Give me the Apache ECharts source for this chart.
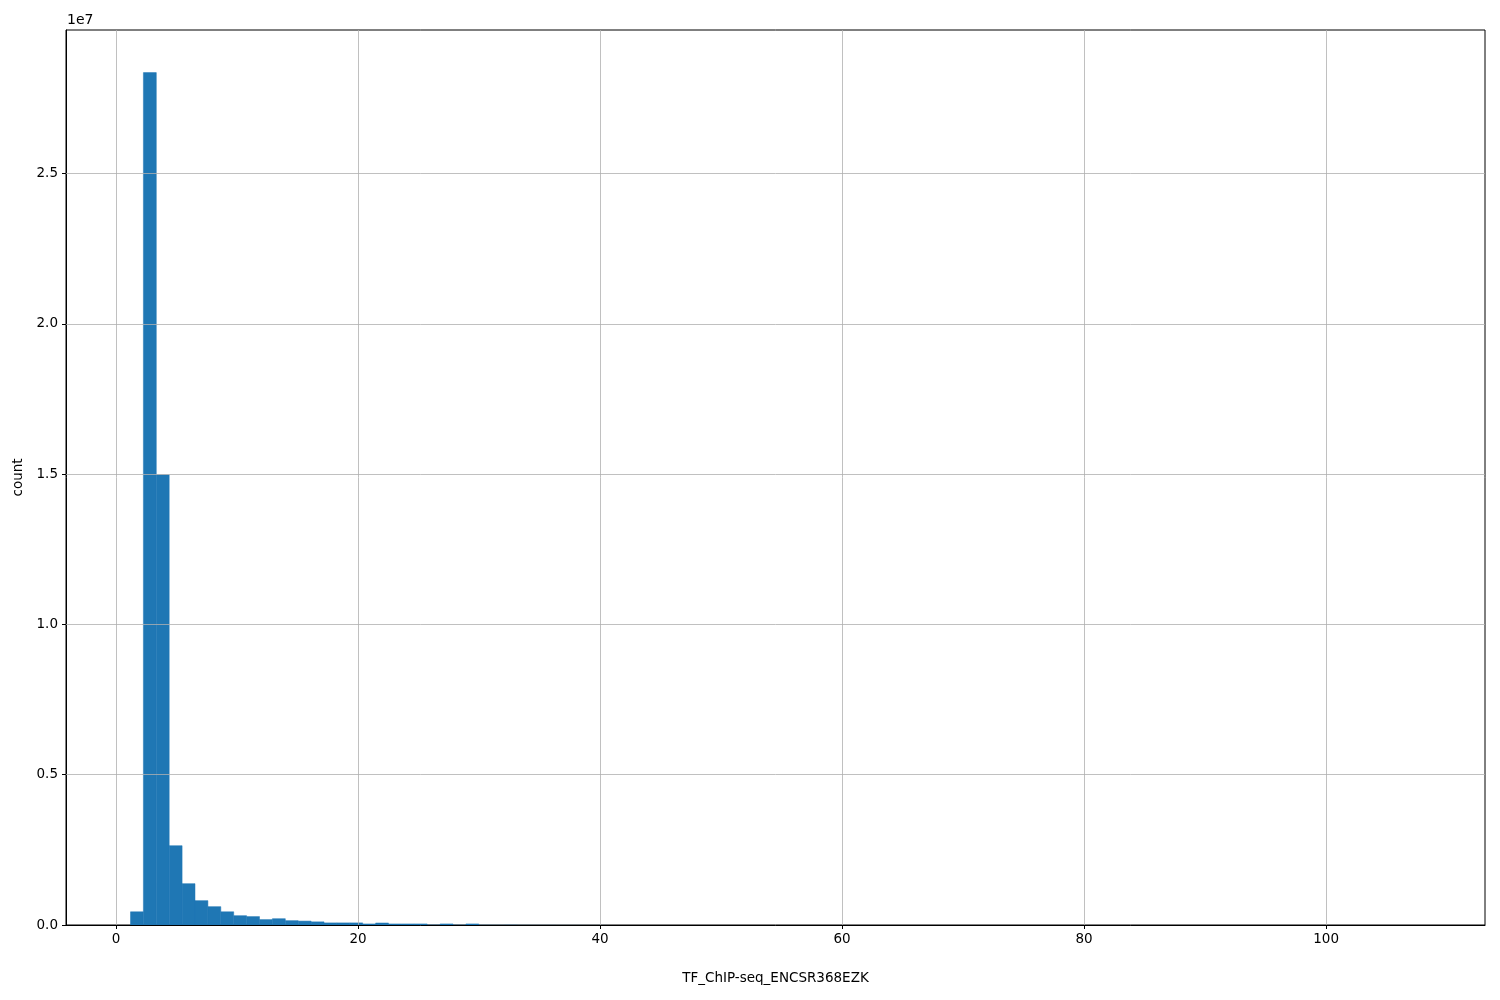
<!DOCTYPE html>
<html><head><meta charset="utf-8">
<script src="https://cdn.jsdelivr.net/npm/echarts@6/dist/echarts.min.js"></script>
<style>html,body{margin:0;padding:0;background:#fff}#c{width:1500px;height:1000px}</style>
</head><body><div id="c"></div>
<script>
// Histogram: 100 equal bins between binStart and binEnd
const binStart = 1.2;
const binEnd = 107.8;
const counts = [
  440000, 28360000, 14980000, 2640000, 1375000, 810000, 610000, 440000, 310000, 280000,
  180000, 210000, 145000, 130000, 105000, 70000, 70000, 70000, 35000, 67000,
  35000, 35000, 35000, 10000, 35000, 8000, 35000, 6000, 5000, 8000,
  4000, 3000, 3000, 2000, 2000, 1500, 1500, 1000, 1000, 800,
  700, 600, 500, 500, 400, 300, 300, 200, 200, 200,
  150, 150, 100, 100, 100, 80, 80, 60, 60, 50,
  40, 40, 30, 30, 30, 20, 20, 20, 15, 15,
  10, 10, 10, 8, 8, 6, 6, 5, 5, 4,
  4, 3, 3, 3, 2, 2, 2, 2, 1, 1,
  1, 1, 1, 1, 1, 1, 1, 1, 1, 1
];
const xTicks = [0, 20, 40, 60, 80, 100];
const yTicks = [0, 5000000, 10000000, 15000000, 20000000, 25000000];
const xLabel = 'TF_ChIP-seq_ENCSR368EZK';
const yLabel = 'count';
const offsetText = '1e7';

const binW = (binEnd - binStart) / counts.length;
const bars = counts.map((c, i) => [binStart + i * binW, binStart + (i + 1) * binW, c]);
const span = binEnd - binStart;
const xMin = binStart - 0.05 * span, xMax = binEnd + 0.05 * span;
const yMax = Math.max(...counts) * 1.05;

const font = 'DejaVu Sans';
const chart = echarts.init(document.getElementById('c'));
chart.setOption({
  animation: false,
  grid: { left: 66, right: 15, top: 30, bottom: 75, show: true, borderColor: '#000', borderWidth: 1, backgroundColor: 'transparent' },
  graphic: [{ type: 'text', left: 67, top: 13, style: { text: offsetText, font: '14px "DejaVu Sans"', fill: '#000' } }],
  xAxis: {
    type: 'value', min: xMin, max: xMax,
    name: xLabel, nameLocation: 'middle', nameGap: 46,
    nameTextStyle: { fontFamily: font, fontSize: 13.5, color: '#000' },
    axisLine: { show: true, onZero: false, lineStyle: { color: '#000', width: 1 } },
    axisTick: { show: true, inside: false, length: 4, lineStyle: { color: '#000' }, customValues: xTicks },
    axisLabel: { fontFamily: font, fontSize: 13.5, color: '#000', margin: 7, customValues: xTicks, formatter: v => String(v) },
    splitLine: { show: false }
  },
  yAxis: {
    type: 'value', min: 0, max: yMax,
    name: yLabel, nameLocation: 'middle', nameGap: 37, nameRotate: 90,
    nameTextStyle: { fontFamily: font, fontSize: 13.5, color: '#000' },
    axisLine: { show: true, onZero: false, lineStyle: { color: '#000', width: 1 } },
    axisTick: { show: true, inside: false, length: 4, lineStyle: { color: '#000' }, customValues: yTicks },
    axisLabel: { fontFamily: font, fontSize: 13.5, color: '#000', margin: 8, customValues: yTicks, formatter: v => (v / 1e7).toFixed(1) },
    splitLine: { show: false }
  },
  series: [
    {
      type: 'custom',
      clip: true,
      data: bars,
      renderItem: function (params, api) {
        const p0 = api.coord([api.value(0), 0]);
        const p1 = api.coord([api.value(1), api.value(2)]);
        const h = p0[1] - p1[1];
        const style = h >= 1 ? { fill: '#1f77b4', stroke: '#1f77b4', lineWidth: 0.5 } : { fill: '#1f77b4' };
        return { type: 'rect', shape: { x: p0[0], y: p1[1], width: p1[0] - p0[0], height: h }, style: style };
      },
      z: 3
    },
    {
      type: 'line', data: [], silent: true, z: 1,
      markLine: {
        silent: true, symbol: 'none', animation: false,
        label: { show: false },
        lineStyle: { color: '#b0b0b0', width: 0.8, type: 'solid' },
        data: xTicks.map(v => ({ xAxis: v })).concat(yTicks.slice(1).map(v => ({ yAxis: v })))
      }
    }
  ]
});
</script></body></html>
